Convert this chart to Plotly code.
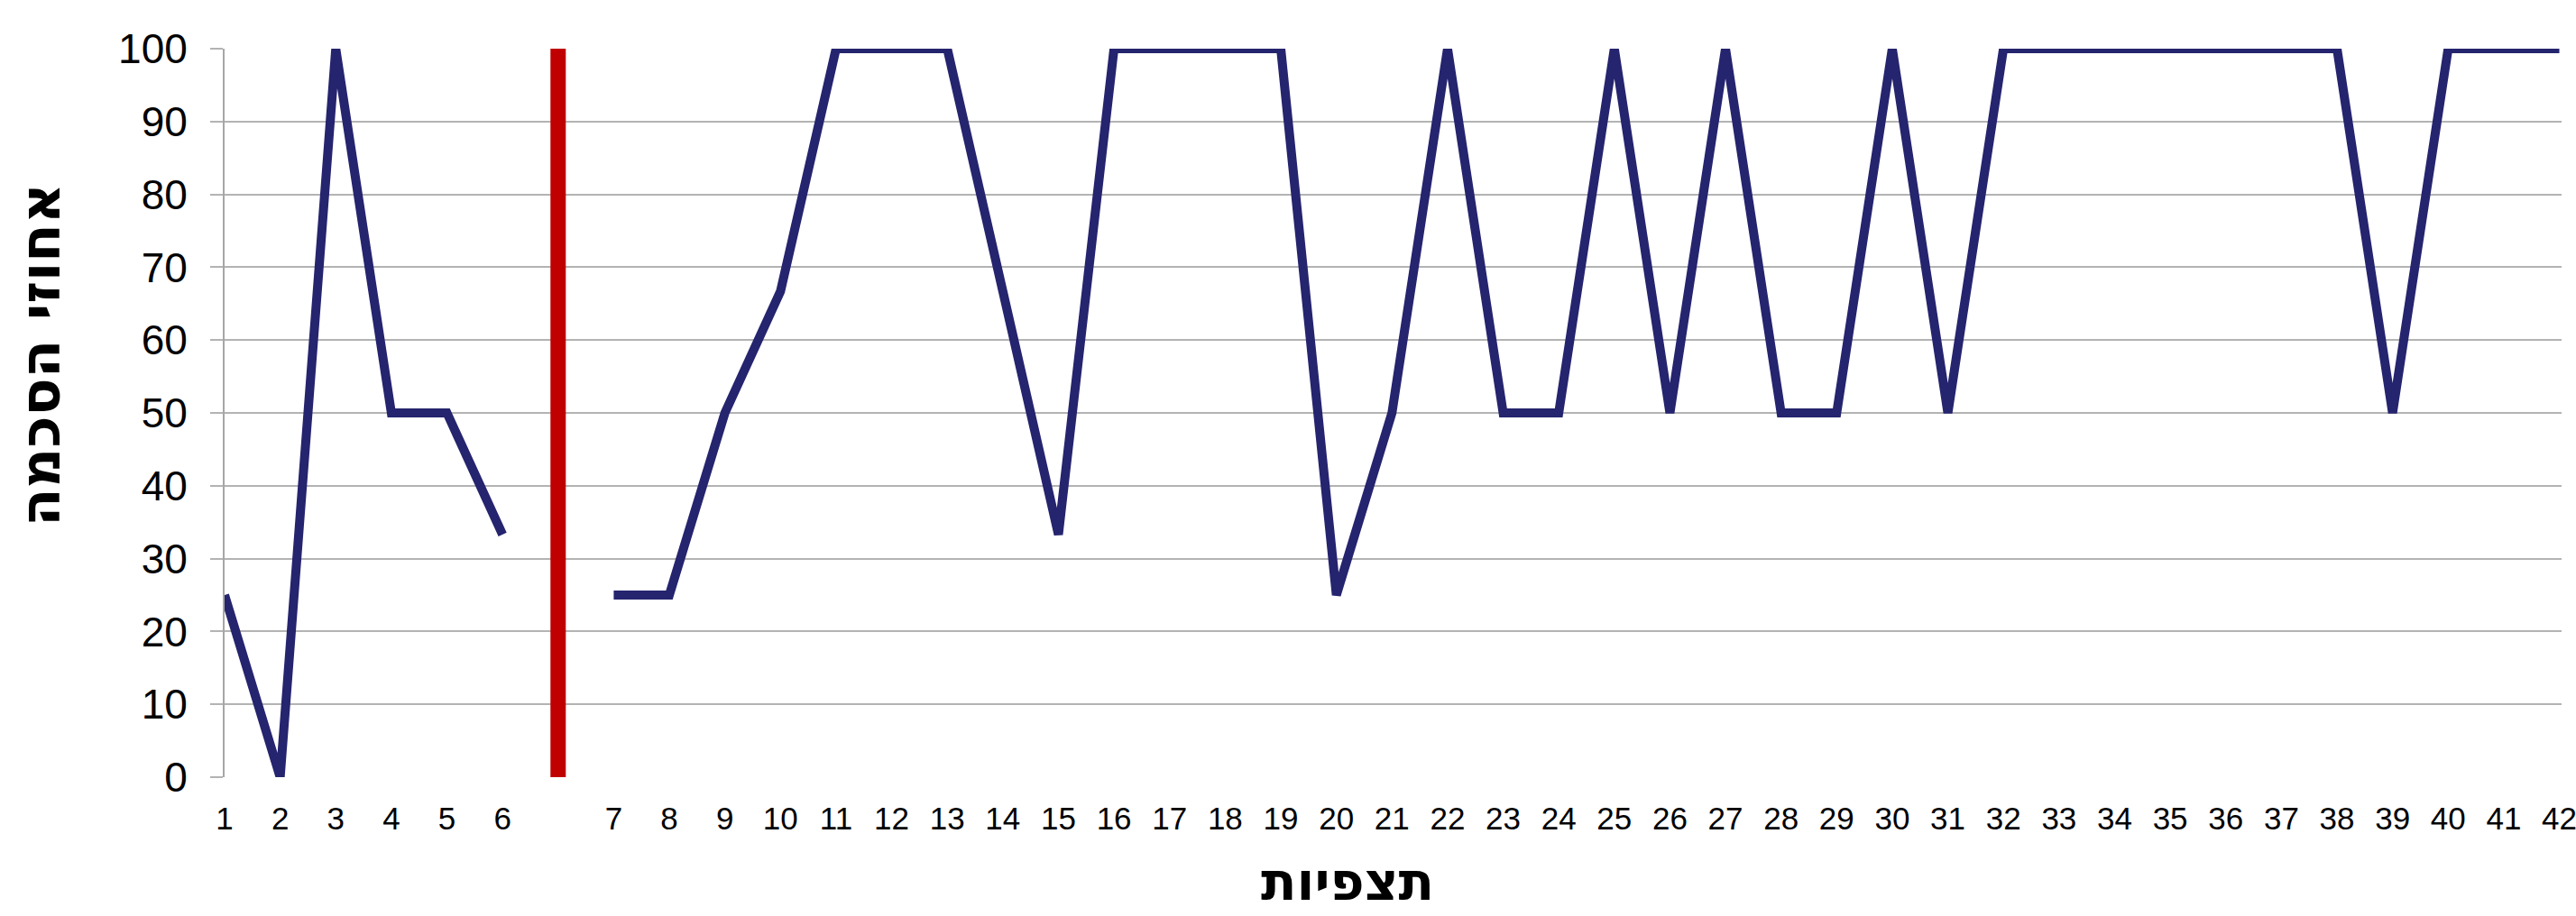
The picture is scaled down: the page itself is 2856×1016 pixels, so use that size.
import plotly.graph_objects as go

# ---- data ----
tick_labels = ["1", "2", "3", "4", "5", "6", "",
               "7", "8", "9", "10", "11", "12", "13", "14", "15", "16", "17", "18", "19", "20",
               "21", "22", "23", "24", "25", "26", "27", "28", "29", "30", "31", "32", "33", "34",
               "35", "36", "37", "38", "39", "40", "41", "42"]
agreement = [25, 0, 100, 50, 50, 33.3, None,
             25, 25, 50, 66.7, 100, 100, 100, 66.7, 33.3, 100, 100, 100, 100, 25,
             50, 100, 50, 50, 100, 50, 100, 50, 50, 100, 50, 100, 100, 100,
             100, 100, 100, 100, 50, 100, 100, 100]
divider_range = [0, 100]
y_title = "אחוזי הסכמה"
x_title = "תצפיות"

positions = list(range(len(tick_labels)))
divider_pos = tick_labels.index("")

W, H = 2856, 1016
L, R, T, B = 249, 16, 54, 154
pw, ph = W - L - R, H - T - B

fig = go.Figure()
fig.add_trace(go.Scatter(
    x=positions, y=agreement, mode="lines",
    line=dict(color="#25246e", width=10),
    connectgaps=False, hoverinfo="skip", showlegend=False,
))

fig.add_shape(type="line", xref="x", yref="y",
              x0=divider_pos, x1=divider_pos, y0=divider_range[0], y1=divider_range[1],
              line=dict(color="#c00000", width=17))

tick_font = "Liberation Sans, Arial, sans-serif"
title_font = "DejaVu Sans, Liberation Sans, sans-serif"

fig.update_layout(
    width=W, height=H,
    margin=dict(l=L, r=R, t=T, b=B, autoexpand=False),
    paper_bgcolor="white", plot_bgcolor="white",
    showlegend=False,
    xaxis=dict(
        range=[0, len(tick_labels) - 1 + 0.04],
        tickmode="array", tickvals=positions, ticktext=tick_labels,
        showgrid=False, zeroline=False, showline=False,
        ticks="", ticklabelstandoff=22, ticklabeloverflow="allow",
        tickfont=dict(family=tick_font, size=35, color="black"),
        fixedrange=True,
    ),
    yaxis=dict(
        range=[0, 100], tickmode="linear", tick0=0, dtick=10,
        showgrid=True, gridcolor="#b3b3b3", gridwidth=2,
        zeroline=False,
        showline=True, linecolor="#a6a6a6", linewidth=2,
        ticks="outside", ticklen=14, tickcolor="#b3b3b3", tickwidth=2,
        ticklabelstandoff=16,
        tickfont=dict(family=tick_font, size=46, color="black"),
        fixedrange=True,
    ),
    annotations=[
        dict(text="<b>" + y_title + "</b>", xref="paper", yref="paper",
             x=(44 - L) / pw, y=(H - B - 394) / ph, xanchor="center", yanchor="middle",
             textangle=-90, showarrow=False,
             font=dict(family=title_font, size=62, color="black")),
        dict(text="<b>" + x_title + "</b>", xref="paper", yref="paper",
             x=(1494 - L) / pw, y=(H - B - 978) / ph, xanchor="center", yanchor="middle",
             showarrow=False,
             font=dict(family=title_font, size=58, color="black")),
    ],
)

fig.write_html("out.html", config={"displayModeBar": False},
               post_script="document.body.style.margin='0';")
